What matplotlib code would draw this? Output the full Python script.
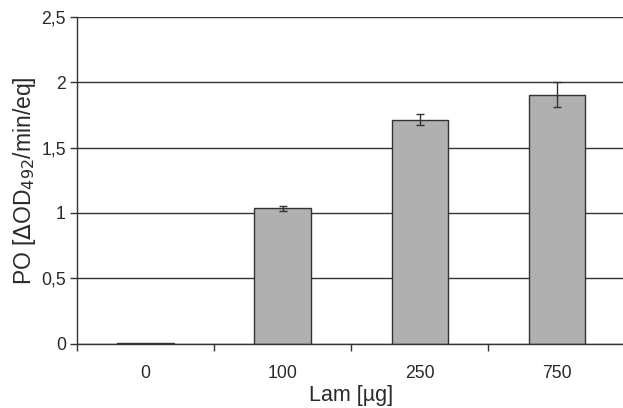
import matplotlib
matplotlib.use("Agg")
import matplotlib.pyplot as plt
import numpy as np

plt.rcParams['font.family'] = ['Liberation Sans', 'DejaVu Sans']

# data
doses = ['0', '100', '250', '750']
po = [0.005, 1.035, 1.715, 1.905]
po_err = [0.0, 0.02, 0.04, 0.095]
yticks = [0, 0.5, 1, 1.5, 2, 2.5]
ytick_labels = ['0', '0,5', '1', '1,5', '2', '2,5']

txt = '#2a2a2a'
line = '#333333'

fig = plt.figure(figsize=(6.23, 4.08), dpi=100)
ax = fig.add_axes([0.1236, 0.158, 0.88, 0.8])

x = np.arange(len(doses))
ax.yaxis.grid(True, color=line, lw=1.0, zorder=0)
ax.set_axisbelow(True)
ax.bar(x, po, width=0.41, color='#b0b0b0', edgecolor=line, linewidth=1.0, zorder=2)
ax.errorbar(x[1:], po[1:], yerr=po_err[1:], fmt='none', ecolor=line,
            elinewidth=1.0, capsize=3, capthick=1.0, zorder=3)

ax.set_xlim(-0.5, 3.5)
ax.set_ylim(0, 2.5)
ax.set_yticks(yticks)
ax.set_yticklabels(ytick_labels)

# ticks at category boundaries, labels in the middle
ax.set_xticks(np.arange(len(doses)) - 0.5)
ax.set_xticklabels([])
ax.set_xticks(x, minor=True)
ax.set_xticklabels(doses, minor=True)
ax.tick_params(axis='x', which='minor', length=0, pad=15.5, labelsize=12.7, labelcolor=txt)
ax.tick_params(axis='x', which='major', length=5, width=1.0, color=line)
ax.tick_params(axis='y', length=5, width=1.0, color=line, labelsize=12.7, labelcolor=txt, pad=3)

for s in ['top', 'right']:
    ax.spines[s].set_visible(False)
ax.spines['left'].set_color(line)
ax.spines['bottom'].set_color(line)
ax.spines['left'].set_linewidth(1.0)
ax.spines['bottom'].set_linewidth(1.0)

ax.set_xlabel('Lam [µg]', fontsize=15.5, color=txt, labelpad=2)
ax.set_ylabel(r'PO [$\Delta$OD$_{492}$/min/eq]', fontsize=16.5, color=txt, labelpad=2)

fig.savefig('out.png', dpi=100)
